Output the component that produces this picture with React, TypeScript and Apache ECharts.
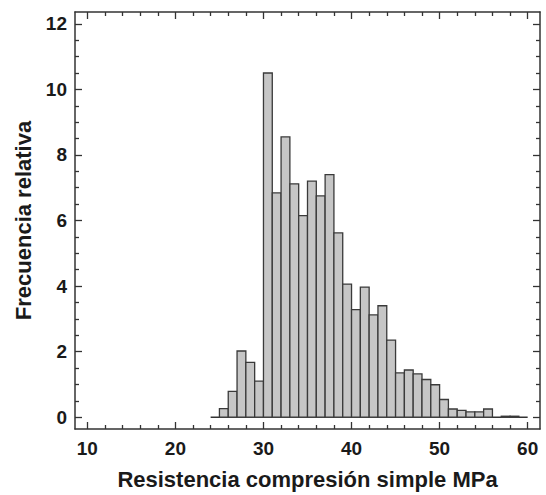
import React, { useEffect, useRef } from "react";
import * as echarts from "echarts";

// Histogram bins (MPa), width 1
const binStarts = [24, 25, 26, 27, 28, 29, 30, 31, 32, 33, 34, 35, 36, 37, 38, 39, 40, 41, 42, 43, 44, 45, 46, 47, 48, 49, 50, 51, 52, 53, 54, 55, 56, 57, 58, 59];
const binWidth = 1;
const freqValues = [0, 0.26, 0.79, 2.02, 1.67, 1.1, 10.5, 6.84, 8.55, 7.12, 6.15, 7.2, 6.75, 7.4, 5.62, 4.06, 3.28, 3.97, 3.12, 3.4, 2.35, 1.35, 1.44, 1.32, 1.15, 0.99, 0.54, 0.25, 0.21, 0.16, 0.16, 0.25, 0, 0.03, 0.03, 0];

const xMajorTicks = [10, 20, 30, 40, 50, 60];
const xMinorTicks = [12, 14, 16, 18, 22, 24, 26, 28, 32, 34, 36, 38, 42, 44, 46, 48, 52, 54, 56, 58];
const yMajorTicks = [0, 2, 4, 6, 8, 10, 12];
const yMinorTicks = [0.5, 1, 1.5, 2.5, 3, 3.5, 4.5, 5, 5.5, 6.5, 7, 7.5, 8.5, 9, 9.5, 10.5, 11, 11.5];

const X_MIN = 8.6;
const X_MAX = 61.4;
const Y_MIN = -0.36;
const Y_MAX = 12.36;

const xTitle = "Resistencia compresión simple MPa";
const yTitle = "Frecuencia relativa";

const FONT = "'Liberation Sans', Arial, sans-serif";
const AXIS_COLOR = "#333333";
const TEXT_COLOR = "#1a1a1a";

export default function App() {
  const ref = useRef<HTMLDivElement>(null);

  useEffect(() => {
    if (!ref.current) return;
    const chart = echarts.init(ref.current, undefined, { renderer: "svg" });

    const histData = binStarts.map((s, i) => [s, s + binWidth, freqValues[i]]);
    const baseline = [
      [binStarts[0], 0],
      [binStarts[binStarts.length - 1] + binWidth, 0],
    ];

    const mkX = (position: string, ticks: number[], len: number, showLine: boolean, labels: boolean, extra: any = {}) => ({
      type: "value",
      position,
      min: X_MIN,
      max: X_MAX,
      axisLine: { show: showLine, onZero: false, lineStyle: { color: AXIS_COLOR, width: 1.5 } },
      axisTick: { show: true, inside: true, length: len, customValues: ticks, lineStyle: { color: AXIS_COLOR, width: 1.3 } },
      axisLabel: labels
        ? { show: true, customValues: ticks, margin: 10, color: TEXT_COLOR, fontFamily: FONT, fontWeight: "bold", fontSize: 19 }
        : { show: false },
      splitLine: { show: false },
      ...extra,
    });
    const mkY = (position: string, ticks: number[], len: number, showLine: boolean, labels: boolean, extra: any = {}) => ({
      type: "value",
      position,
      min: Y_MIN,
      max: Y_MAX,
      axisLine: { show: showLine, onZero: false, lineStyle: { color: AXIS_COLOR, width: 1.5 } },
      axisTick: { show: true, inside: true, length: len, customValues: ticks, lineStyle: { color: AXIS_COLOR, width: 1.3 } },
      axisLabel: labels
        ? { show: true, customValues: ticks, margin: 8, color: TEXT_COLOR, fontFamily: FONT, fontWeight: "bold", fontSize: 19 }
        : { show: false },
      splitLine: { show: false },
      ...extra,
    });

    chart.setOption({
      animation: false,
      backgroundColor: "#ffffff",
      grid: { left: 75, right: 6, top: 12, bottom: 59, containLabel: false },
      xAxis: [
        mkX("bottom", xMajorTicks, 7, true, true, {
          name: xTitle,
          nameLocation: "middle",
          nameGap: 39,
          nameTextStyle: { color: TEXT_COLOR, fontFamily: FONT, fontWeight: "bold", fontSize: 22 },
        }),
        mkX("bottom", xMinorTicks, 4, false, false),
        mkX("top", xMajorTicks, 7, true, false),
        mkX("top", xMinorTicks, 4, false, false),
      ],
      yAxis: [
        mkY("left", yMajorTicks, 7, true, true, {
          name: yTitle,
          nameLocation: "middle",
          nameGap: 40,
          nameTextStyle: { color: TEXT_COLOR, fontFamily: FONT, fontWeight: "bold", fontSize: 22 },
        }),
        mkY("left", yMinorTicks, 4, false, false),
        mkY("right", yMajorTicks, 7, true, false),
        mkY("right", yMinorTicks, 4, false, false),
      ],
      series: [
        {
          type: "line",
          xAxisIndex: 0,
          yAxisIndex: 0,
          data: baseline,
          symbol: "none",
          lineStyle: { color: AXIS_COLOR, width: 1.5 },
          z: 1,
        },
        {
          type: "custom",
          xAxisIndex: 0,
          yAxisIndex: 0,
          data: histData,
          encode: { x: [0, 1], y: 2 },
          z: 2,
          renderItem: (params: any, api: any) => {
            const lo = api.value(0);
            const hi = api.value(1);
            const v = api.value(2);
            if (!(v > 0)) return null;
            const p1 = api.coord([lo, v]);
            const p2 = api.coord([hi, 0]);
            return {
              type: "rect",
              shape: { x: p1[0], y: p1[1], width: p2[0] - p1[0], height: p2[1] - p1[1] },
              style: { fill: "#c6c6c6", stroke: "#3a3a3a", lineWidth: 1.3 },
            };
          },
        },
      ],
    });

    return () => chart.dispose();
  }, []);

  return (
    <div
      ref={ref}
      style={{ position: "fixed", left: 0, top: 0, width: 546, height: 495, background: "#fff" }}
    />
  );
}
